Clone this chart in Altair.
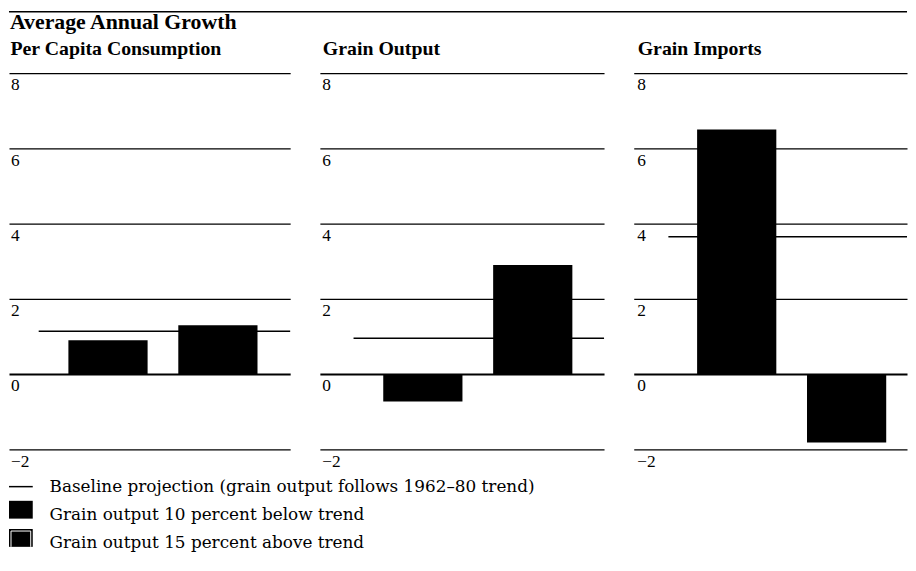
import altair as alt
import pandas as pd

# ---------------- data ----------------
TITLE = "Average Annual Growth"
PANELS = ["Per Capita Consumption", "Grain Output", "Grain Imports"]
SCENARIOS = ["Grain output 10 percent below trend", "Grain output 15 percent above trend"]
BASELINE_LABEL = "Baseline projection (grain output follows 1962\u201380 trend)"
BELOW = [0.9, -0.73, 6.5]      # grain output 10 percent below trend
ABOVE = [1.3, 2.9, -1.82]      # grain output 15 percent above trend
BASELINE = [1.14, 0.95, 3.65]  # baseline projection
Y_TICKS = [-2, 0, 2, 4, 6, 8]
LEGEND_LABELS = [BASELINE_LABEL] + SCENARIOS
LEGEND_KIND = ["line", "below", "above"]

# ---------------- layout / style ----------------
PANEL_W = [284, 287, 276]
PANEL_H = 380
SPACING = 30
TOTAL_W = sum(PANEL_W) + 2 * SPACING
PAD_INNER = 31 / 111


def _outer(w):
    return (w / 111 - (2 - PAD_INNER)) / 2


PAD_OUTER = [_outer(w) for w in PANEL_W]
BAR_START = [60, 64, 64]
ALIGN = [s / (w - 111 * (2 - PAD_INNER)) for s, w in zip(BAR_START, PANEL_W)]
BASE_X0 = [30, 34, 35]
LABEL_PAD = [-1.5, -2, -3]
TITLE_DX = [1.5, 3, 4]
SERIF = "Liberation Serif"
RECT = "M-1,-0.75H1V0.75H-1Z"
OPEN = "M-0.83,0.75V-0.58H0.83V0.75"
HEADER_RULE_Y = -62
HEADER_TEXT_Y = -44.8
PANEL_TITLE_Y = -18.5
LEGEND_RANGE = [PANEL_H + 43, PANEL_H + 100]


def panel_core(i):
    df = pd.DataFrame({"scenario": SCENARIOS, "value": [BELOW[i], ABOVE[i]]})
    base = pd.DataFrame({"value": [BASELINE[i]]})
    ttl = pd.DataFrame({"panel": [PANELS[i]]})
    y = alt.Y(
        "value:Q",
        scale=alt.Scale(domain=[-2, 8], nice=False),
        axis=alt.Axis(
            values=Y_TICKS,
            title=None,
            domain=False,
            ticks=False,
            grid=True,
            gridColor="#000000",
            gridWidth={"condition": {"test": "datum.value === 0", "value": 2}, "value": 1.3},
            gridOpacity=1,
            labelAlign="left",
            labelBaseline="alphabetic",
            labelOffset=17,
            labelPadding=LABEL_PAD[i],
            labelFont=SERIF,
            labelFontSize=17.5,
            labelColor="#000000",
            labelFlush=False,
            labelOverlap=False,
        ),
    )
    bars = alt.Chart(df).mark_bar(color="#000000").encode(
        x=alt.X(
            "scenario:N",
            sort=SCENARIOS,
            axis=None,
            scale=alt.Scale(paddingInner=PAD_INNER, paddingOuter=PAD_OUTER[i], align=ALIGN[i]),
        ),
        y=y,
    )
    rule = alt.Chart(base).mark_rule(color="#000000", strokeWidth=1.5).encode(
        x=alt.value(BASE_X0[i]),
        x2=alt.value(PANEL_W[i]),
        y=alt.Y("value:Q"),
    )
    head = alt.Chart(ttl).mark_text(
        align="left", baseline="alphabetic", font=SERIF, fontSize=20, fontWeight="bold", color="#000000"
    ).encode(x=alt.value(TITLE_DX[i]), y=alt.value(PANEL_TITLE_Y), text="panel:N")
    return alt.layer(bars, rule, head)


# header (rule + overall title) drawn above the first panel
header_df = pd.DataFrame({"title": [TITLE]})
header_rule = alt.Chart(header_df).mark_rule(color="#000000", strokeWidth=1.5).encode(
    x=alt.value(0), x2=alt.value(TOTAL_W), y=alt.value(HEADER_RULE_Y)
)
header_text = alt.Chart(header_df).mark_text(
    align="left", baseline="alphabetic", font=SERIF, fontSize=22, fontWeight="bold", color="#000000"
).encode(x=alt.value(1), y=alt.value(HEADER_TEXT_Y), text="title:N")

# legend drawn below the first panel
legend_df = pd.DataFrame({"label": LEGEND_LABELS, "kind": LEGEND_KIND})
ly = alt.Y(
    "label:N",
    scale=alt.Scale(type="point", domain=LEGEND_LABELS, range=LEGEND_RANGE, padding=0),
    axis=None,
)
leg_text = alt.Chart(legend_df).mark_text(
    align="left", baseline="alphabetic", font="DejaVu Serif", fontSize=17, color="#000000"
).encode(x=alt.value(41), y=ly, text="label:N")
leg_line = alt.Chart(legend_df).transform_filter(alt.datum.kind == "line").mark_rule(
    color="#000000", strokeWidth=1.5, yOffset=-5.3
).encode(x=alt.value(0), x2=alt.value(24), y=ly)
leg_sq = alt.Chart(legend_df).transform_filter(alt.datum.kind != "line").mark_point(
    shape=RECT, size=576, filled=True, color="#000000", opacity=1, strokeWidth=0, yOffset=-10.5
).encode(x=alt.value(12), y=ly)
leg_edge = alt.Chart(legend_df).transform_filter(alt.datum.kind == "above").mark_point(
    shape=OPEN, size=576, filled=False, color="#ffffff", opacity=1, strokeWidth=1, yOffset=-10.5
).encode(x=alt.value(12), y=ly)
legend = alt.layer(leg_text, leg_line, leg_sq, leg_edge)

p1 = (
    alt.layer(panel_core(0), alt.layer(header_rule, header_text), legend)
    .resolve_scale(y="independent")
    .properties(width=PANEL_W[0], height=PANEL_H)
)
p2 = panel_core(1).properties(width=PANEL_W[1], height=PANEL_H)
p3 = panel_core(2).properties(width=PANEL_W[2], height=PANEL_H)

chart = (
    alt.hconcat(p1, p2, p3, spacing=SPACING, bounds="flush")
    .properties(padding=0)
    .configure(font=SERIF)
    .configure_view(stroke=None)
)

chart.save("out.html", embed_options={"renderer": "svg", "actions": False})
